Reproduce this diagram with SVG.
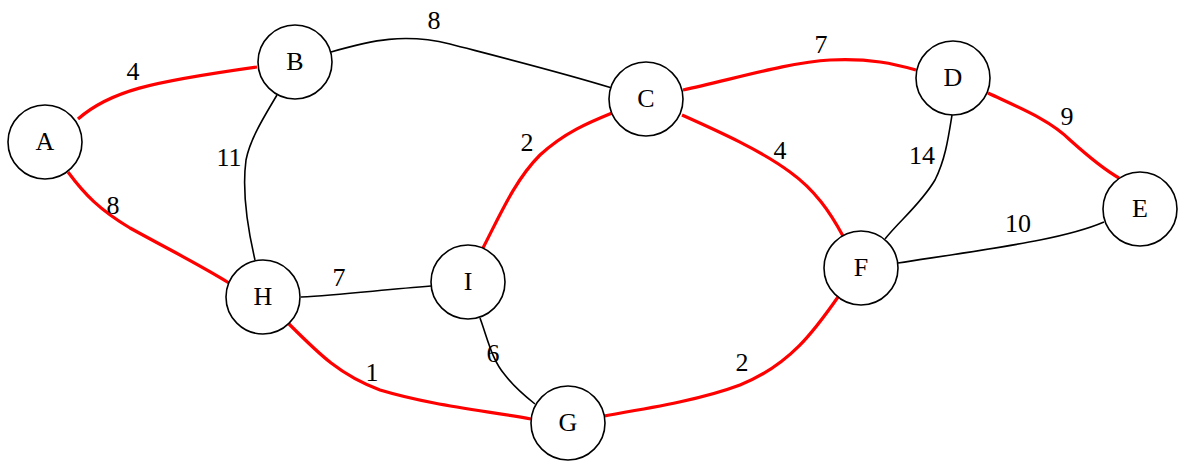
<svg xmlns="http://www.w3.org/2000/svg" width="1186" height="470" viewBox="0 0 1186 470">
<style>
.node circle{fill:#fff;stroke:#000;stroke-width:1.6}
.node text{font-family:"Liberation Serif",serif;font-size:26px;text-anchor:middle}
.e{fill:none;stroke:#000;stroke-width:1.6}
.r{fill:none;stroke:#ff0000;stroke-width:3.2}
.lbl{font-family:"Liberation Serif",serif;font-size:26px;text-anchor:middle}
</style>
<rect width="1186" height="470" fill="#fff"/>
<g id="connectors">
<path class="r" d="M78,119 C110,91 150,82 257,67"/>
<path class="e" d="M331,52 C372,40 405,33 450,44 C500,57 560,72 612,88"/>
<path class="e" d="M277,95 C262,120 250,140 246,160 C242,190 248,230 255,260"/>
<path class="r" d="M68,172 C85,195 100,210 130,228 C170,250 200,265 229,283"/>
<path class="e" d="M301,297 C340,295 380,290 431,286"/>
<path class="r" d="M289,324 C320,355 340,375 380,390 C430,405 480,410 531,419"/>
<path class="e" d="M480,318 C488,340 492,360 505,375 C515,388 525,396 535,404"/>
<path class="r" d="M483,248 C500,215 515,180 540,155 C565,132 590,122 612,113"/>
<path class="r" d="M683,90 C730,80 790,62 830,60 C870,58 895,64 916,70"/>
<path class="r" d="M682,115 C720,132 760,150 790,172 C815,190 830,212 843,236"/>
<path class="e" d="M952,115 C948,140 945,160 935,180 C920,205 900,220 885,239"/>
<path class="r" d="M988,93 C1020,108 1050,120 1070,140 C1090,158 1105,170 1119,178"/>
<path class="e" d="M898,263 C950,255 1000,248 1040,240 C1070,234 1090,228 1104,222"/>
<path class="r" d="M604,416 C650,408 700,400 740,385 C790,365 815,330 838,297"/>
<g class="lbl">
<text x="133" y="80">4</text>
<text x="434" y="29">8</text>
<text x="229" y="166">11</text>
<text x="113" y="214">8</text>
<text x="339" y="286">7</text>
<text x="372" y="381">1</text>
<text x="493" y="362">6</text>
<text x="527" y="151">2</text>
<text x="821" y="53">7</text>
<text x="780" y="159">4</text>
<text x="922" y="164">14</text>
<text x="1018" y="232">10</text>
<text x="1067" y="125">9</text>
<text x="742" y="371">2</text>
</g>
</g>
<g id="A" class="node"><circle cx="45" cy="142" r="37"/><text x="45" y="150">A</text></g>
<g id="B" class="node"><circle cx="295" cy="62" r="37"/><text x="295" y="70">B</text></g>
<g id="C" class="node"><circle cx="646" cy="99" r="37"/><text x="646" y="107">C</text></g>
<g id="D" class="node"><circle cx="953" cy="78" r="37"/><text x="953" y="86">D</text></g>
<g id="E" class="node"><circle cx="1140" cy="209" r="37"/><text x="1140" y="217">E</text></g>
<g id="F" class="node"><circle cx="861" cy="268" r="37"/><text x="861" y="276">F</text></g>
<g id="G" class="node"><circle cx="568" cy="423" r="37"/><text x="568" y="431">G</text></g>
<g id="H" class="node"><circle cx="263" cy="297" r="37"/><text x="263" y="305">H</text></g>
<g id="I" class="node"><circle cx="468" cy="282" r="37"/><text x="468" y="290">I</text></g>
</svg>
